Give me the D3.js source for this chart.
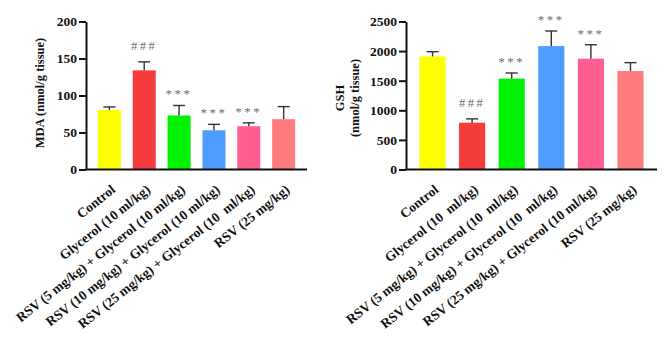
<!DOCTYPE html>
<html><head><meta charset="utf-8">
<script src="https://cdn.jsdelivr.net/npm/d3@7"></script>
<style>
html,body{margin:0;padding:0;background:#fff;}
svg text{font-family:"Liberation Serif","Times New Roman",serif;}
</style></head>
<body><svg id="c" width="670" height="345"></svg>
<script>
const categoriesMDA = ["Control","Glycerol (10 ml/kg)","RSV (5 mg/kg) + Glycerol (10 ml/kg)","RSV (10 mg/kg) + Glycerol (10 ml/kg)","RSV (25 mg/kg) + Glycerol (10  ml/kg)","RSV (25 mg/kg)"];
const categoriesGSH = ["Control","Glycerol (10  ml/kg)","RSV (5 mg/kg) + Glycerol (10  ml/kg)","RSV (10 mg/kg) + Glycerol (10  ml/kg)","RSV (25 mg/kg) + Glycerol (10 ml/kg)","RSV (25 mg/kg)"];
const mdaMean = [80.5, 134, 73, 53, 58.5, 68];
const mdaErr  = [4, 11.5, 13.5, 8, 4.5, 17];
const gshMean = [1910, 790, 1535, 2085, 1872, 1663];
const gshErr  = [80, 65, 95, 255, 235, 142];
const mdaMarks = ["", "###", "***", "***", "***", ""];
const gshMarks = ["", "###", "***", "***", "***", ""];
const mdaTicks = [0, 50, 100, 150, 200];
const gshTicks = [0, 500, 1000, 1500, 2000, 2500];
const barColors = ["#FFFF00","#F63C3C","#00F200","#4F9CFF","#FF5E8F","#FF7C7C"];

const svg = d3.select("#c");

function panel(opts){
  const g = svg.append("g");
  const x = d3.scaleBand().domain(d3.range(opts.cats.length)).range(opts.xr).paddingInner(0.34).paddingOuter(0.34);
  const y = d3.scaleLinear().domain([0, opts.ymax]).range([169.5, 21.5]);
  g.selectAll("rect.bar").data(opts.mean).join("rect")
    .attr("x",(d,i)=>x(i)).attr("width",x.bandwidth())
    .attr("y",d=>y(d)).attr("height",d=>y(0)-y(d))
    .attr("fill",(d,i)=>barColors[i]);
  const eb = g.selectAll("g.eb").data(opts.mean).join("g");
  eb.append("line").attr("x1",(d,i)=>x(i)+x.bandwidth()/2).attr("x2",(d,i)=>x(i)+x.bandwidth()/2)
    .attr("y1",d=>y(d)).attr("y2",(d,i)=>y(d+opts.err[i])).attr("stroke","#333").attr("stroke-width",1.4);
  eb.append("line").attr("x1",(d,i)=>x(i)+x.bandwidth()/2-6).attr("x2",(d,i)=>x(i)+x.bandwidth()/2+6)
    .attr("y1",(d,i)=>y(d+opts.err[i])).attr("y2",(d,i)=>y(d+opts.err[i])).attr("stroke","#333").attr("stroke-width",1.4);
  g.selectAll("text.mk").data(opts.marks).join("text")
    .attr("x",(d,i)=>x(i)+x.bandwidth()/2)
    .attr("y",(d,i)=>y(opts.mean[i]+opts.err[i]) - (d==="###"?12:7))
    .attr("text-anchor","middle").attr("fill","#6e6e6e")
    .style("font-size", d=> d==="###"?"12.5px":"13px").style("letter-spacing","2.5px")
    .text(d=>d);
  const ya = g.append("g").attr("transform",`translate(${opts.xr[0]},0)`)
    .call(d3.axisLeft(y).tickValues(opts.ticks).tickFormat(d3.format("d")).tickSize(7).tickPadding(2).tickSizeOuter(0));
  ya.select(".domain").attr("stroke","#111").attr("stroke-width",2);
  ya.selectAll(".tick line").attr("stroke","#111").attr("stroke-width",2);
  ya.selectAll(".tick text").attr("fill","#111").style("font-size","13.5px").style("font-weight","bold").style("font-family","Liberation Serif, serif");
  const xa = g.append("g").attr("transform",`translate(0,${y(0)})`)
    .call(d3.axisBottom(x).tickSize(0).tickSizeOuter(0).tickFormat(i=>opts.cats[i]));
  xa.select(".domain").attr("stroke","#111").attr("stroke-width",2).attr("d",`M${opts.xr[0]},0H${opts.xr[1]}`);
  xa.selectAll(".tick text").attr("fill","#111").style("font-size","13.5px").style("font-weight","bold")
    .style("font-family","Liberation Serif, serif").style("white-space","pre")
    .attr("text-anchor","end").attr("y",0).attr("dy","0.35em")
    .attr("transform","translate(4,18) rotate(-38.5)");
  const lab = g.append("text").attr("transform",`translate(${opts.labX},${opts.labY}) rotate(-90)`)
    .attr("text-anchor","middle").attr("fill","#111").style("font-size","12.5px").style("font-weight","bold");
  opts.label.forEach((t,k)=>lab.append("tspan").attr("x",0).attr("dy",k===0?0:15).text(t));
  return g;
}

panel({cats:categoriesMDA, mean:mdaMean, err:mdaErr, marks:mdaMarks, ticks:mdaTicks, ymax:200,
  xr:[86,307], labX:44, labY:93, label:["MDA (nmol/g tissue)"]});
panel({cats:categoriesGSH, mean:gshMean, err:gshErr, marks:gshMarks, ticks:gshTicks, ymax:2500,
  xr:[406,657], labX:344, labY:98, label:["GSH","(nmol/g tissue)"]});
</script></body></html>
